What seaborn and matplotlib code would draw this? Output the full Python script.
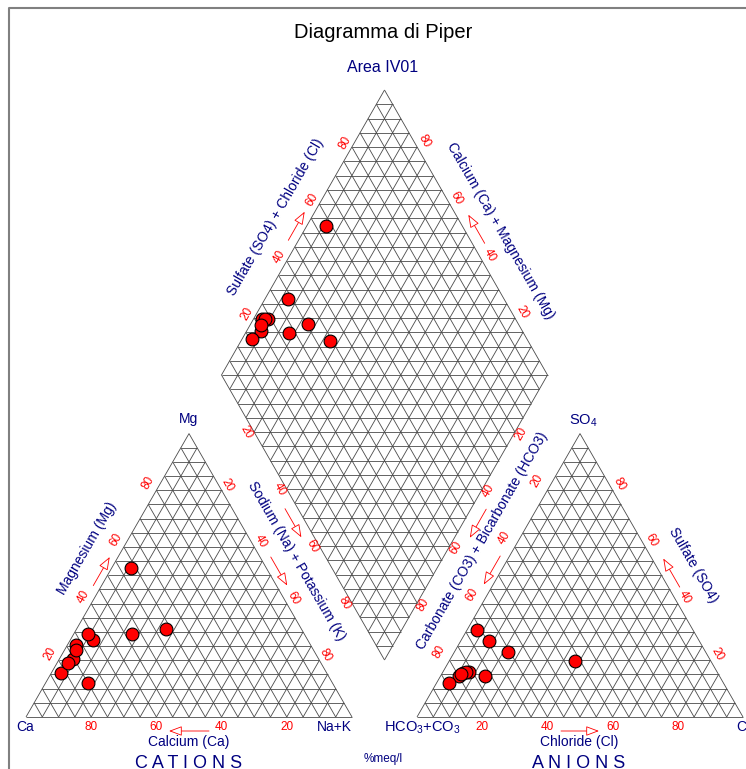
import numpy as np
import pandas as pd
import matplotlib
matplotlib.use("Agg")
import matplotlib.pyplot as plt
from matplotlib.collections import LineCollection
from matplotlib.patches import FancyArrowPatch
import seaborn as sns

# cations, % meq/l
ca = [41.7, 52.9, 41.7, 74.9, 65.7, 66.5, 71.9, 75.3, 81.5, 72.9, 77.5]
mg = [52.4, 29.4, 30.9, 11.9, 27.3, 29.2, 25.5, 20.4, 15.5, 23.7, 19.0]
nak = [5.9, 17.7, 27.4, 13.2, 7.0, 4.3, 2.6, 4.3, 3.0, 3.4, 3.5]

# anions, % meq/l
hco3 = [41.7, 64.4, 60.6, 71.9, 66.4, 76.0, 77.9, 80.1, 84.3, 77.0, 79.0]
so4 = [19.6, 26.9, 22.9, 14.3, 30.6, 16.0, 15.7, 14.3, 11.9, 15.8, 15.0]
cl = [38.7, 8.7, 16.5, 13.8, 3.0, 8.0, 6.4, 5.6, 3.8, 7.2, 6.0]

ticks = [20, 40, 60, 80]

sns.set_theme(style="white")
plt.rcParams['font.family'] = ['Liberation Sans', 'DejaVu Sans']
plt.rcParams['mathtext.fontset'] = 'custom'
plt.rcParams['mathtext.rm'] = 'Liberation Sans'
plt.rcParams['mathtext.it'] = 'Liberation Sans'

NAVY = '#000080'
RED = '#ff0000'
GRID = '#4a4a4a'

# layout, in pixels (y down)
L, H = 326.0, 283.4
CAT0 = (26.0, 717.0)   # Ca corner
AN0 = (417.0, 717.0)   # HCO3 corner
DB = np.array([384.5, 660.0])     # diamond bottom
US = np.array([163.0, -285.0])    # SO4+Cl direction
UC = np.array([-163.0, -285.0])   # Ca+Mg direction


def tern(origin, right, top):
    right = np.asarray(right, dtype=float) / 100
    top = np.asarray(top, dtype=float) / 100
    return origin[0] + L * (right + top / 2), origin[1] - H * top


def diamond(s, c):
    s = np.asarray(s, dtype=float) / 100
    c = np.asarray(c, dtype=float) / 100
    return DB[0] + US[0] * s + UC[0] * c, DB[1] + US[1] * s + UC[1] * c


def tri_grid(origin):
    segs = []
    for k in range(0, 100, 5):
        segs.append([tern(origin, 0, k), tern(origin, 100 - k, k)])
        segs.append([tern(origin, k, 0), tern(origin, k, 100 - k)])
        segs.append([tern(origin, 100 - k, 0), tern(origin, 0, 100 - k)])
    return segs


def diamond_grid():
    segs = []
    for k in range(0, 101, 5):
        segs.append([diamond(k, 0), diamond(k, 100)])
        segs.append([diamond(0, k), diamond(100, k)])
    for m in range(1, 40):
        q = m * 5
        if q <= 100:
            segs.append([diamond(0, q), diamond(q, 0)])
        else:
            segs.append([diamond(q - 100, 100), diamond(100, q - 100)])
    return segs


fig = plt.figure(figsize=(7.46, 7.69), dpi=100)
ax = fig.add_axes([0, 0, 1, 1])
ax.set_xlim(0, 746)
ax.set_ylim(769, 0)
ax.axis('off')

# frame
ax.plot([9, 9, 746], [769, 8, 8], color='#808080', lw=1.5)

for segs in [tri_grid(CAT0), tri_grid(AN0), diamond_grid()]:
    ax.add_collection(LineCollection(segs, colors=GRID, linewidths=0.6))

# data points
cx, cy = tern(CAT0, nak, mg)
ax_, ay = tern(AN0, cl, so4)
s_tot = np.add(so4, cl)
c_tot = np.add(ca, mg)
dx, dy = diamond(s_tot, c_tot)
pts = pd.DataFrame({'x': np.concatenate([cx, ax_, dx]),
                    'y': np.concatenate([cy, ay, dy])})
sns.scatterplot(data=pts, x='x', y='y', s=85, color='red', edgecolor='black',
                linewidth=0.8, ax=ax, legend=False, zorder=5)


def tick_labels(points, vals, off, rot):
    for (x, y), v in zip(points, vals):
        ax.text(x + off[0], y + off[1], str(v), color=RED, fontsize=8.5,
                rotation=rot, ha='center', va='center', rotation_mode='anchor')


# cation triangle ticks
tick_labels([tern(CAT0, 100 - v, 0) for v in ticks], ticks, (0, 10), 0)
tick_labels([tern(CAT0, 0, v) for v in ticks], ticks, (-8, -7), 60)
tick_labels([tern(CAT0, v, 100 - v) for v in ticks], ticks, (6, -5.5), -60)
# anion triangle ticks
tick_labels([tern(AN0, v, 0) for v in ticks], ticks, (0, 10), 0)
tick_labels([tern(AN0, 0, 100 - v) for v in ticks], ticks, (-10, -9), 60)
tick_labels([tern(AN0, 100 - v, v) for v in ticks], ticks, (6.5, -6.5), -60)
# diamond ticks
tick_labels([diamond(v, 100) for v in ticks], ticks, (-7, -4), 60)
tick_labels([diamond(100, v) for v in ticks], ticks, (7, -6), -60)
tick_labels([diamond(0, 100 - v) for v in ticks], ticks, (-7.5, 0.5), -60)
tick_labels([diamond(100 - v, 0) for v in ticks], ticks, (6, 1.5), 60)


def arrow(mid, direction, off, length=33):
    d = np.asarray(direction, dtype=float)
    d = d / np.hypot(*d)
    m = np.asarray(mid, dtype=float) + np.asarray(off)
    a = FancyArrowPatch(m - d * length / 2, m + d * length / 2,
                        arrowstyle='-|>,head_length=0.8,head_width=0.3',
                        mutation_scale=10, lw=0.6, edgecolor=RED,
                        facecolor='white', shrinkA=0, shrinkB=0, zorder=3)
    ax.add_patch(a)


up_r = (0.5 * L, -H)
up_l = (-0.5 * L, -H)
arrow(tern(CAT0, 0, 50), up_r, (-6, -4))
arrow(tern(CAT0, 50, 50), (0.5 * L, H), (8.5, -4))
arrow(tern(CAT0, 50, 0), (-1, 0), (0, 14), 40)
arrow(tern(AN0, 0, 50), (-0.5 * L, H), (-6.5, -5))
arrow(tern(AN0, 50, 50), up_l, (10, -2.5))
arrow(tern(AN0, 50, 0), (1, 0), (0, 14), 38)
arrow(diamond(50, 100), US, (-6.5, -6.5))
arrow(diamond(100, 50), UC, (10.5, -3.5))
arrow(diamond(0, 50), -UC, (-9.8, 5.5))
arrow(diamond(50, 0), -US, (12, 6))

# titles
ax.text(383, 37.5, 'Diagramma di Piper', fontsize=14.5, color='black',
        ha='center', va='baseline')
ax.text(383, 72.5, 'Area IV01', fontsize=11.5, color=NAVY,
        ha='center', va='baseline')

# axis titles
ax.text(87, 548, 'Magnesium (Mg)', fontsize=10, color=NAVY, rotation=60,
        ha='center', va='center', rotation_mode='anchor')
ax.text(296, 561, 'Sodium (Na) + Potassium (K)', fontsize=10, color=NAVY,
        rotation=-60, ha='center', va='center', rotation_mode='anchor')
ax.text(188.5, 746, 'Calcium (Ca)', fontsize=10, color=NAVY,
        ha='center', va='baseline')
ax.text(276, 217, 'Sulfate (SO4) + Chloride (Cl)', fontsize=10, color=NAVY,
        rotation=60, ha='center', va='center', rotation_mode='anchor')
ax.text(500, 231, 'Calcium (Ca) + Magnesium (Mg)', fontsize=10, color=NAVY,
        rotation=-60, ha='center', va='center', rotation_mode='anchor')
ax.text(482, 541, 'Carbonate (CO3) + Bicarbonate (HCO3)', fontsize=10,
        color=NAVY, rotation=60, ha='center', va='center',
        rotation_mode='anchor')
ax.text(693, 565, 'Sulfate (SO4)', fontsize=10, color=NAVY, rotation=-60,
        ha='center', va='center', rotation_mode='anchor')
ax.text(579, 746, 'Chloride (Cl)', fontsize=10, color=NAVY,
        ha='center', va='baseline')

# corner labels
ax.text(25, 731, 'Ca', fontsize=10, color=NAVY, ha='center', va='baseline')
ax.text(352, 731, 'Na+K', fontsize=10, color=NAVY, ha='right', va='baseline')
ax.text(189, 423, 'Mg', fontsize=10, color=NAVY, ha='center', va='baseline')
ax.text(583, 425, 'SO$_4$', fontsize=10.5, color=NAVY, ha='center', va='baseline')
ax.text(422, 732, 'HCO$_3$+CO$_3$', fontsize=10.5, color=NAVY, ha='center',
        va='baseline')
ax.text(736, 731, 'Cl', fontsize=10, color=NAVY, ha='left', va='baseline')

ax.text(188.5, 768, 'C A T I O N S', fontsize=13, color=NAVY, ha='center',
        va='baseline')
ax.text(579, 768, 'A N I O N S', fontsize=13, color=NAVY, ha='center',
        va='baseline')
ax.text(383, 762, '%meq/l', fontsize=8.5, color=NAVY, ha='center',
        va='baseline')

fig.savefig('out.png', dpi=100)
